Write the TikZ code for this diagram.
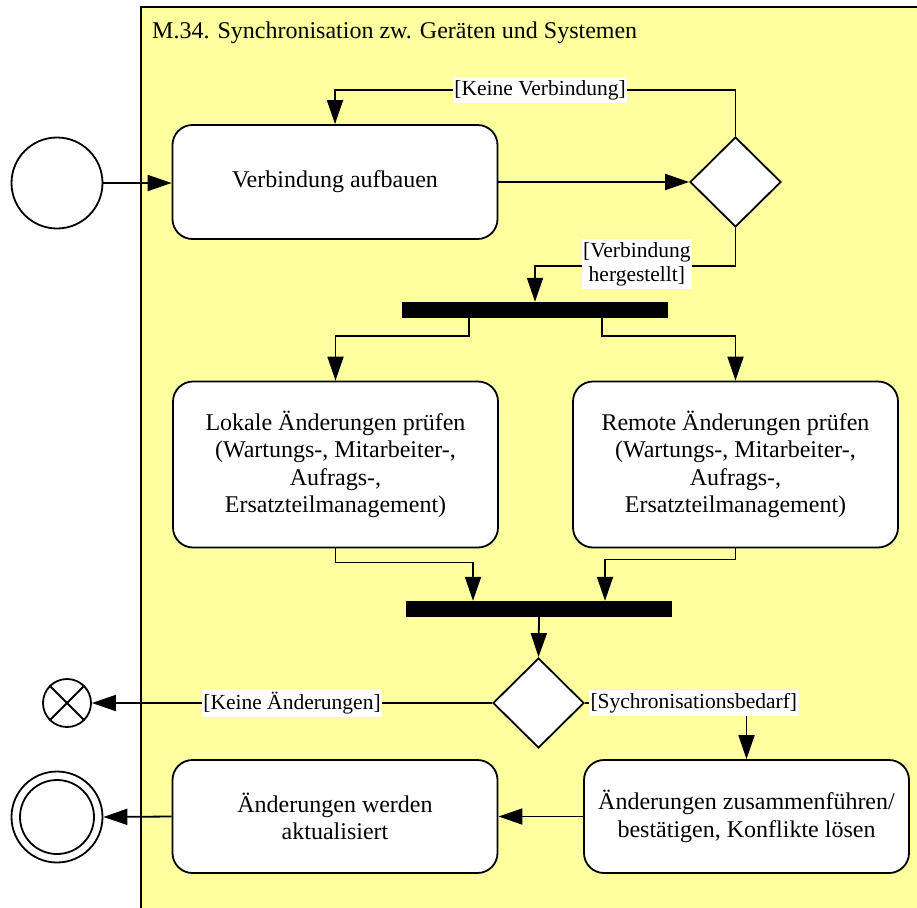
\documentclass[tikz,border=0pt]{standalone}
\usepackage{fontspec}
\setmainfont{Liberation Serif}
\usetikzlibrary{arrows.meta,shapes.geometric}
\definecolor{frameyellow}{RGB}{255,255,160}
\begin{document}
\begin{tikzpicture}[x=1pt,y=-1pt,
  font=\fontsize{24}{27.5}\selectfont,
  lw/.style={line width=1.8pt},
  act/.style={lw,draw,fill=white,rounded corners=20pt,align=center,inner sep=0pt,minimum width=325pt},
  dec/.style={lw,draw,fill=white,diamond,inner sep=0pt,minimum width=91pt,minimum height=90pt},
  bar/.style={fill=black,draw=none,inner sep=0pt,minimum height=16pt},
  flow/.style={lw,-{Triangle[length=24pt,width=16pt]}},
  lbl/.style={fill=white,inner xsep=1.5pt,inner ysep=3pt,align=center,font=\fontsize{21.5}{24}\selectfont},
  evt/.style={lw,draw,fill=white,circle,inner sep=0pt}]
\useasboundingbox (0,0) rectangle (917,907);
\clip (0,0) rectangle (917,907);
% frame
\fill[frameyellow] (141,7) rectangle (940,930);
\draw[lw] (141,930) -- (141,7) -- (940,7);
\node[anchor=base west,inner sep=0pt] (title) at (152,38) {M.34. Synchronisation zw. Geräten und Systemen};
% nodes
\node[evt,minimum size=91pt] (init) at (57,183) {};
\node[act,minimum height=114pt] (b1) at (335,182) {Verbindung aufbauen};
\node[dec] (d1) at (735.5,182) {};
\node[bar,minimum width=266pt] (bar1) at (535,310) {};
\node[act,minimum height=166pt] (b2) at (335.5,464.5) {Lokale Änderungen prüfen\\(Wartungs-, Mitarbeiter-,\\Aufrags-,\\Ersatzteilmanagement)};
\node[act,minimum height=166pt] (b3) at (735.5,464.5) {Remote Änderungen prüfen\\(Wartungs-, Mitarbeiter-,\\Aufrags-,\\Ersatzteilmanagement)};
\node[bar,minimum width=266pt] (bar2) at (539,609) {};
\node[dec] (d2) at (538.5,703) {};
\node[evt,minimum size=48pt] (ff) at (67,703) {};
\draw[lw] (ff.north east) -- (ff.south west) (ff.north west) -- (ff.south east);
\node[act,minimum height=113pt] (b4) at (746.5,816.5) {Änderungen zusammenführen/\\bestätigen, Konflikte lösen};
\node[act,minimum height=113pt] (b5) at (335,816.5) {Änderungen werden\\aktualisiert};
\node[evt,minimum size=91pt] (fin) at (57,817) {};
\node[evt,minimum size=74pt] (fininner) at (fin.center) {};
% connectors
\draw[flow] (init.east) -- (init.east -| b1.west);
\draw[flow] (b1.east) -- (d1.west);
\draw[flow] (d1.north) -- ++(0,-46) -| node[lbl,pos=0.244] {[Keine Verbindung]} (b1.north);
\draw[flow] (d1.south) -- ++(0,38) -| node[lbl,pos=0.246,yshift=2pt] {[Verbindung\\hergestellt]} (bar1.north);
\draw[flow] ([xshift=-66pt]bar1.south) -- ++(0,18) -| (b2.north);
\draw[flow] ([xshift=67pt]bar1.south) -- ++(0,18) -| (b3.north);
\draw[flow] (b2.south) -- ++(0,14) -| ([xshift=-66pt]bar2.north);
\draw[flow] (b3.south) -- ++(0,11) -| ([xshift=66pt]bar2.north);
\draw[flow] (bar2.south) -- (d2.north);
\draw[flow] (d2.west) -- node[lbl] {[Keine Änderungen]} (ff.east);
\draw[flow] (d2.east) -| node[lbl,pos=0.337] {[Sychronisationsbedarf]} (b4.north);
\draw[flow] (b4.west) -- (b5.east);
\draw[flow] (b5.west) -- (fin.east);
\end{tikzpicture}
\end{document}
